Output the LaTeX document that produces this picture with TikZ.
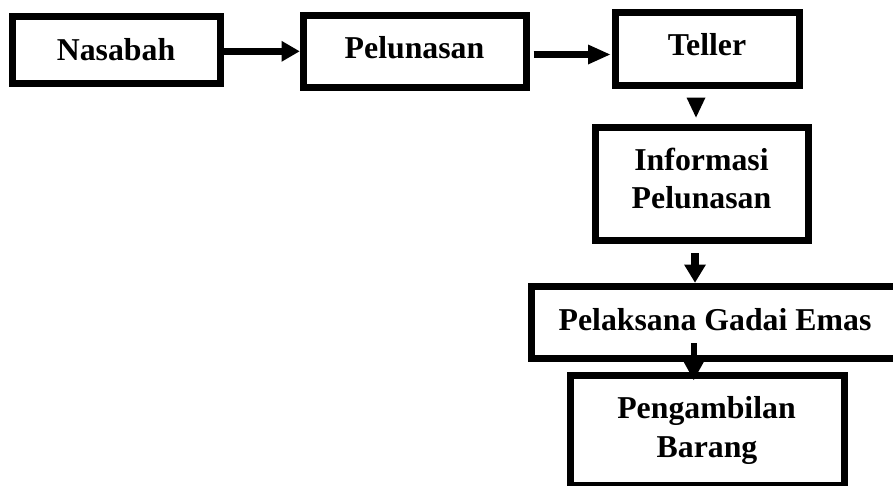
\documentclass[tikz,border=0pt]{standalone}
\usepackage{fontspec}
\setmainfont{Liberation Serif}
\usetikzlibrary{arrows.meta}
\begin{document}
\begin{tikzpicture}[x=1pt,y=-1pt,
  box/.style={draw=black,line width=7pt,rectangle,inner sep=0pt},
  txt/.style={font=\bfseries\fontsize{31.8pt}{38pt}\selectfont,anchor=base,inner sep=0pt},
  arr/.style n args={3}{line width=#3,-{Triangle[length=#1,width=#2,line width=0pt]}}]
\useasboundingbox (0,0) rectangle (893,485);
\clip (0,0) rectangle (893,485);
% boxes
\node[box,minimum width=208pt,minimum height=67pt] (nas) at (116,49.5) {};
\node[box,minimum width=223pt,minimum height=72pt] (pel) at (414.5,51) {};
\node[box,minimum width=184pt,minimum height=73pt] (tel) at (707,48.5) {};
\node[box,minimum width=213pt,minimum height=113pt] (inf) at (701.5,183.5) {};
\node[box,minimum width=369pt,minimum height=72pt] (pgl) at (715.5,322) {};
\node[box,minimum width=274pt,minimum height=110pt] (amb) at (707,430) {};
% texts
\node[txt] (tnas) at (116,60) {Nasabah};
\node[txt] (tpel) at (414.5,58) {Pelunasan};
\node[txt] (ttel) at (707,55) {Teller};
\node[txt] (tinf1) at (701.5,170) {Informasi};
\node[txt] (tinf2) at (701.5,208) {Pelunasan};
\node[txt] (tpgl) at (715,330) {Pelaksana Gadai Emas};
\node[txt] (tamb1) at (706.5,418) {Pengambilan};
\node[txt] (tamb2) at (707,457) {Barang};
% connectors
\coordinate (a1) at ([yshift=-1.8pt]nas.east);
\draw[arr={18pt}{21pt}{7.5pt}] (a1) -- (a1 -| pel.west);
\coordinate (a2) at ([xshift=4pt,yshift=-3.5pt]pel.east);
\draw[arr={22pt}{20pt}{7.5pt},shorten >=1.5pt] (a2) -- (a2 -| tel.west);
\coordinate (b1) at ([xshift=-11pt,yshift=-9pt]tel.south);
\draw[arr={20pt}{19pt}{7.5pt},shorten >=6pt] (b1) -- (b1 |- inf.north);
\coordinate (c1) at ([xshift=-6.5pt,yshift=-9.5pt]inf.south);
\draw[arr={18pt}{22pt}{8pt}] (c1) -- (c1 |- pgl.north);
\coordinate (d1) at ([xshift=-21.75pt,yshift=18.5pt]pgl.south);
\draw[arr={18pt}{20pt}{6.5pt},shorten >=-8.5pt] (d1) -- (d1 |- amb.north);
\end{tikzpicture}
\end{document}
